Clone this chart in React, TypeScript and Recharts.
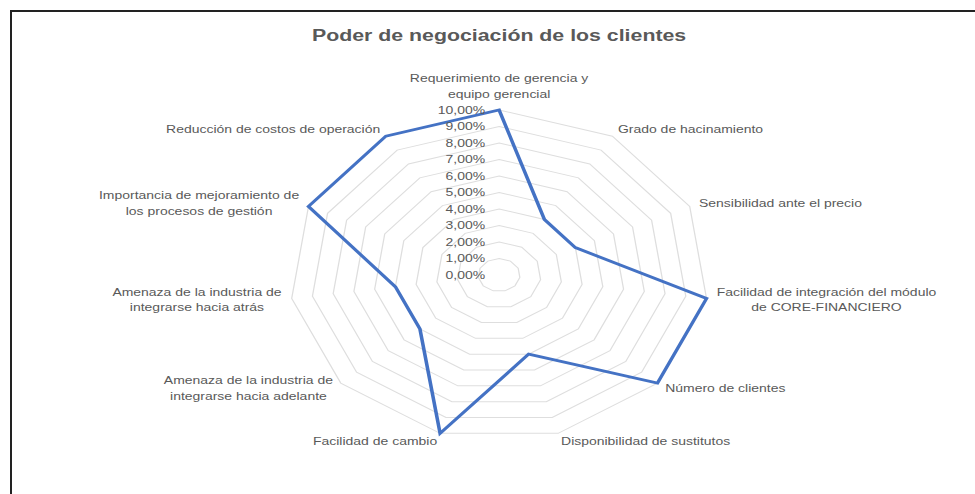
import React from "react";
import {
  RadarChart,
  Radar,
  PolarGrid,
  PolarAngleAxis,
  PolarRadiusAxis,
} from "recharts";

// categories (\n = line break as in the original labels)
const categories = [
  "Requerimiento de gerencia y\nequipo gerencial",
  "Grado de hacinamiento",
  "Sensibilidad ante el precio",
  "Facilidad de integración del módulo\nde CORE-FINANCIERO",
  "Número de clientes",
  "Disponibilidad de sustitutos",
  "Facilidad de cambio",
  "Amenaza de la industria de\nintegrarse hacia adelante",
  "Amenaza de la industria de\nintegrarse hacia atrás",
  "Importancia de mejoramiento de\nlos procesos de gestión",
  "Reducción de costos de operación",
];

// values in percent
const values = [10, 4, 4, 10, 10, 5, 10, 5, 5, 10, 10];

const radiusTicks = [0, 1, 2, 3, 4, 5, 6, 7, 8, 9, 10];

const data = categories.map((name, i) => ({ name, value: values[i] }));

// the original picture is stretched horizontally
const SX = 1.27;
const FONT = "'Liberation Sans', Arial, sans-serif";
const LABEL_SIZE = 11;
const GREY = "#595959";

let ctx: CanvasRenderingContext2D | null = null;
const measure = (s: string) => {
  if (!ctx) {
    ctx = document.createElement("canvas").getContext("2d");
  }
  if (!ctx) return s.length * LABEL_SIZE * 0.5;
  ctx.font = `${LABEL_SIZE}px ${FONT}`;
  return ctx.measureText(s).width;
};

const fmt = (v: number) => v.toFixed(2).replace(".", ",") + "%";

function AngleTick(props: any) {
  const { x, y, textAnchor, payload } = props;
  const lines = String(payload.value).split("\n");
  const w = Math.max(...lines.map(measure));
  let mx = x;
  if (textAnchor === "start") mx = x + w / 2;
  else if (textAnchor === "end") mx = x - w / 2;
  const lh = 15.5;
  let firstY = y - ((lines.length - 1) * lh) / 2;
  if (textAnchor === "middle") firstY = y - 8 - (lines.length - 1) * lh;
  return (
    <text
      textAnchor="middle"
      fill={GREY}
      fontSize={LABEL_SIZE}
      fontFamily={FONT}
    >
      {lines.map((l, i) => (
        <tspan key={i} x={mx} y={firstY + i * lh} dy="0.35em">
          {l}
        </tspan>
      ))}
    </text>
  );
}

function RadiusTick(props: any) {
  const { x, y, payload } = props;
  return (
    <text
      x={x - 11}
      y={y}
      dy="0.35em"
      textAnchor="end"
      fill={GREY}
      fontSize={LABEL_SIZE}
      fontFamily={FONT}
    >
      {fmt(payload.value)}
    </text>
  );
}

export default function App() {
  return (
    <div
      style={{
        position: "absolute",
        left: 0,
        top: 0,
        width: 975,
        height: 494,
        background: "#fff",
        overflow: "hidden",
      }}
    >
      <div
        style={{
          position: "absolute",
          left: 10,
          top: 10,
          right: -5,
          bottom: -5,
          borderTop: "2px solid #222",
          borderLeft: "2px solid #222",
        }}
      />
      <div
        style={{
          position: "absolute",
          left: 0,
          top: 0,
          width: 768,
          height: 494,
          transform: `scaleX(${SX})`,
          transformOrigin: "0 0",
        }}
      >
        <div
          style={{
            position: "absolute",
            left: 0,
            top: 26,
            width: 786,
            textAlign: "center",
            fontFamily: FONT,
            fontSize: 16.8,
            fontWeight: "bold",
            color: GREY,
          }}
        >
          Poder de negociación de los clientes
        </div>
        <RadarChart
          width={768}
          height={494}
          cx={393}
          cy={275}
          outerRadius={165}
          data={data}
        >
          <PolarGrid gridType="polygon" radialLines={false} stroke="#dedede" />
          <PolarAngleAxis
            dataKey="name"
            tick={AngleTick}
            tickLine={false}
            axisLine={false}
          />
          <PolarRadiusAxis
            angle={90}
            domain={[0, 10]}
            ticks={radiusTicks}
            tickCount={11}
            tick={RadiusTick}
            axisLine={false}
            tickLine={false}
          />
          <Radar
            dataKey="value"
            stroke="#4472C4"
            strokeWidth={2.8}
            fill="none"
            fillOpacity={0}
            dot={false}
            isAnimationActive={false}
          />
        </RadarChart>
      </div>
    </div>
  );
}
